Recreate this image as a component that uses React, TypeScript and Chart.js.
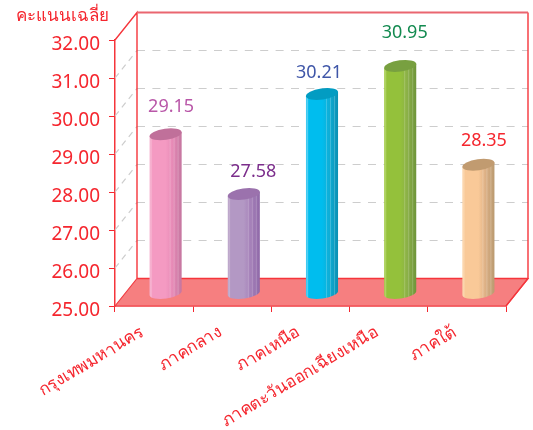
import React, { useEffect, useRef } from "react";
import { Chart, registerables } from "chart.js";

Chart.register(...registerables);

const categories = ["กรุงเทพมหานคร", "ภาคกลาง", "ภาคเหนือ", "ภาคตะวันออกเฉียงเหนือ", "ภาคใต้"];
const values = [29.15, 27.58, 30.21, 30.95, 28.35];
const axisTitle = "คะแนนเฉลี่ย";

const RED = "#f5262e";
const FONT = '"Noto Sans", "Noto Sans CJK SC", sans-serif';
const DEPTH_X = 22;
const DEPTH_Y = -27.5;
const BAR_SHIFT_X = 11.5;
const BAR_SHIFT_Y = -14;
const RX = 16.2;
const RY = 5.6;
const TILT = -0.14;

const barStyles = [
  { stops: ["#f6b3d0", "#f49ac2", "#e68ab6", "#c4759f"], top: "#c0709a", label: "#b957a8" },
  { stops: ["#c0abcc", "#b398c4", "#a47fb8", "#8f69a8"], top: "#9b72ad", label: "#7b2d8b" },
  { stops: ["#4fcdf3", "#00bdee", "#10aed6", "#0b8fb2"], top: "#029cc2", label: "#3f56a8" },
  { stops: ["#a8d04c", "#94c13b", "#8bb048", "#6e943a"], top: "#78a040", label: "#138a50" },
  { stops: ["#fcd5a9", "#f9c998", "#dcb085", "#b99a70"], top: "#c19b70", label: "#f5262e" },
];
const labelNudges = [
  [5.5, -27],
  [9.5, -22],
  [-3, -21],
  [4.5, -33],
  [5.5, -24],
];

const frame = {
  id: "frame3d",
  beforeDatasetsDraw(chart: any) {
    const { ctx, chartArea: a, scales } = chart;
    const y = scales.y;
    ctx.save();
    // floor
    ctx.beginPath();
    ctx.moveTo(a.left, a.bottom);
    ctx.lineTo(a.left + DEPTH_X, a.bottom + DEPTH_Y);
    ctx.lineTo(a.right + DEPTH_X, a.bottom + DEPTH_Y);
    ctx.lineTo(a.right, a.bottom);
    ctx.closePath();
    ctx.fillStyle = "#f67f80";
    ctx.fill();
    ctx.strokeStyle = "#f03a40";
    ctx.lineWidth = 1.2;
    ctx.stroke();
    // grid
    ctx.strokeStyle = "#cdcdcd";
    ctx.lineWidth = 1.2;
    y.ticks.forEach((t: any) => {
      if (t.value === y.min || t.value === y.max) return;
      const py = y.getPixelForValue(t.value);
      ctx.setLineDash([8, 7.4]);
      ctx.beginPath();
      ctx.moveTo(a.left + DEPTH_X, py + DEPTH_Y);
      ctx.lineTo(a.right + DEPTH_X, py + DEPTH_Y);
      ctx.stroke();
      ctx.setLineDash([6, 5]);
      ctx.beginPath();
      ctx.moveTo(a.left, py);
      ctx.lineTo(a.left + DEPTH_X, py + DEPTH_Y);
      ctx.stroke();
    });
    ctx.setLineDash([]);
    // walls
    ctx.strokeStyle = "#f5353b";
    ctx.lineWidth = 1.4;
    ctx.beginPath();
    ctx.moveTo(a.left, a.top);
    ctx.lineTo(a.left + DEPTH_X, a.top + DEPTH_Y);
    ctx.lineTo(a.left + DEPTH_X, a.bottom + DEPTH_Y);
    ctx.moveTo(a.right + DEPTH_X, a.top + DEPTH_Y);
    ctx.lineTo(a.right + DEPTH_X, a.bottom + DEPTH_Y);
    ctx.lineTo(a.right, a.bottom);
    ctx.moveTo(a.left + DEPTH_X, a.bottom + DEPTH_Y);
    ctx.lineTo(a.right + DEPTH_X, a.bottom + DEPTH_Y);
    ctx.stroke();
    ctx.strokeStyle = "#ea6670";
    ctx.lineWidth = 2;
    ctx.beginPath();
    ctx.moveTo(a.left + DEPTH_X, a.top + DEPTH_Y);
    ctx.lineTo(a.right + DEPTH_X, a.top + DEPTH_Y);
    ctx.stroke();
    ctx.restore();
  },
};

const cylinders = {
  id: "cylinders",
  afterDatasetsDraw(chart: any) {
    const { ctx, scales } = chart;
    const meta = chart.getDatasetMeta(0);
    const baseY = scales.y.getPixelForValue(scales.y.min) + BAR_SHIFT_Y;
    const dyEdge = Math.sin(TILT) * RX;
    const dxEdge = Math.cos(TILT) * RX;
    meta.data.forEach((bar: any, i: number) => {
      const st = barStyles[i];
      const cx = bar.x + BAR_SHIFT_X;
      const topY = bar.y + BAR_SHIFT_Y;
      ctx.save();
      const g = ctx.createLinearGradient(cx - RX, 0, cx + RX, 0);
      g.addColorStop(0, st.stops[0]);
      g.addColorStop(0.1, st.stops[1]);
      g.addColorStop(0.5, st.stops[1]);
      g.addColorStop(0.72, st.stops[2]);
      g.addColorStop(1, st.stops[3]);
      ctx.beginPath();
      ctx.moveTo(cx - dxEdge, topY - dyEdge);
      ctx.lineTo(cx + dxEdge, topY + dyEdge);
      ctx.lineTo(cx + dxEdge, baseY + dyEdge + 1);
      ctx.ellipse(cx, baseY + 1, RX, RY, TILT, 0, Math.PI);
      ctx.closePath();
      ctx.fillStyle = g;
      ctx.fill();
      // facet stripes
      ctx.save();
      ctx.clip();
      ctx.strokeStyle = "rgba(255,255,255,0.2)";
      ctx.lineWidth = 1;
      [-14.5, 4.5, 8.5, 12.5].forEach((off) => {
        ctx.beginPath();
        ctx.moveTo(cx + off, topY - 8);
        ctx.lineTo(cx + off, baseY + 8);
        ctx.stroke();
      });
      ctx.restore();
      // top cap
      ctx.beginPath();
      ctx.ellipse(cx, topY, RX, RY, TILT, 0, Math.PI * 2);
      ctx.fillStyle = st.top;
      ctx.fill();
      // value label
      ctx.fillStyle = st.label;
      ctx.font = `18px ${FONT}`;
      ctx.textAlign = "center";
      ctx.textBaseline = "middle";
      ctx.fillText(values[i].toFixed(2), cx + labelNudges[i][0], topY + labelNudges[i][1]);
      ctx.restore();
    });
  },
};

export default function App() {
  const ref = useRef<HTMLCanvasElement>(null);
  useEffect(() => {
    const chart = new Chart(ref.current!, {
      type: "bar",
      data: {
        labels: categories,
        datasets: [{ data: values, backgroundColor: "rgba(0,0,0,0)", borderWidth: 0, barThickness: 32 }],
      },
      options: {
        responsive: false,
        animation: false,
        layout: { padding: { left: 16, right: 27, top: 0, bottom: 0 } },
        plugins: {
          legend: { display: false },
          tooltip: { enabled: false },
          title: {
            display: true,
            text: axisTitle,
            align: "start",
            color: RED,
            font: { family: FONT, size: 17, weight: "normal" },
            padding: { top: 6, bottom: 13.6 },
          },
        },
        scales: {
          x: {
            offset: true,
            afterFit: (s: any) => { s.height = 124; },
            border: { color: "#f5353b", width: 1.5 },
            grid: { drawOnChartArea: false, color: RED, tickLength: 6, offset: true },
            ticks: {
              color: RED,
              font: { family: FONT, size: 17 },
              minRotation: 31,
              maxRotation: 31,
              autoSkip: false,
              padding: 10,
              labelOffset: -12,
            },
          },
          y: {
            min: 25,
            max: 32,
            afterFit: (s: any) => { s.width = 99; },
            border: { color: "#f5353b", width: 1.5 },
            grid: { drawOnChartArea: false, color: RED, tickLength: 6 },
            ticks: {
              stepSize: 1,
              color: RED,
              padding: 9,
              labelOffset: 5,
              font: { family: FONT, size: 19 },
              callback: (v: any) => Number(v).toFixed(2),
            },
          },
        },
      },
      plugins: [frame, cylinders],
    } as any);
    return () => chart.destroy();
  }, []);
  return <canvas ref={ref} width={533} height={430} style={{ position: "absolute", left: 0, top: 0 }} />;
}
